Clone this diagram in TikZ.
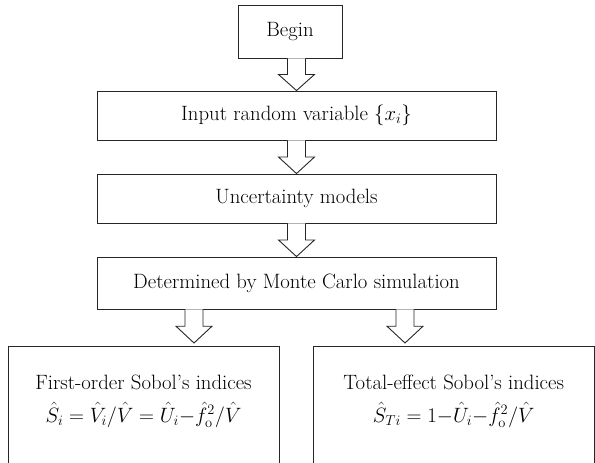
\documentclass[tikz,border=0pt]{standalone}
\usepackage{amsmath}
\usetikzlibrary{calc}

\newcommand{\fatarrow}[2]{%
  \draw[fat arrow] let \p1=(#1), \p2=(#2) in
    (\x1-9pt,\y1) -- (\x1-9pt,{0.5*\y1+0.5*\y2}) -- (\x1-18pt,{0.5*\y1+0.5*\y2})
    -- (\x1,\y2) -- (\x1+18pt,{0.5*\y1+0.5*\y2}) -- (\x1+9pt,{0.5*\y1+0.5*\y2}) -- (\x1+9pt,\y1);}

\begin{document}
\begin{tikzpicture}
    [x=1pt,y=-1pt,
    box/.style={draw=black!85, line width=0.9pt, inner sep=0pt, font=\fontsize{20.74}{25}\selectfont},
    fat arrow/.style={draw=black!85, line width=0.9pt, fill=white, line join=miter},
    label text/.style={align=center, font=\fontsize{20.74}{25}\selectfont},
    ]
    \useasboundingbox (0,0) rectangle (595,463);
    \clip (0,0) rectangle (595,463);

    %flow boxes
    \node[box, minimum width=104pt, minimum height=53pt] (begin) at (290,31.5) {Begin};
    \node[box, minimum width=399pt, minimum height=49pt] (input) at (296.5,115.5) {Input random variable $\{x_i\}$};
    \node[box, minimum width=399pt, minimum height=49pt] (model) at (296.5,198.5) {Uncertainty models};
    \node[box, minimum width=399pt, minimum height=52pt] (mc) at (296.5,283) {Determined by Monte Carlo simulation};

    %index boxes
    \node[box, anchor=north, minimum width=271pt, minimum height=200pt] (first) at (143.5,346) {};
    \node[box, anchor=north, minimum width=281.5pt, minimum height=200pt] (total) at (453.75,346) {};
    \node[label text] (firsttext) at ($(first.north)+(0,55)$)
        {First-order Sobol's indices\\[8pt] $\hat{S}_i = \hat{V}_i/\hat{V} = \hat{U}_i{-}\hat{f}_{\mathrm{o}}^2/\hat{V}$};
    \node[label text] (totaltext) at ($(total.north)+(0,55)$)
        {Total-effect Sobol's indices\\[8pt] $\hat{S}_{Ti} = 1{-}\hat{U}_i{-}\hat{f}_{\mathrm{o}}^2/\hat{V}$};

    %arrows
    \fatarrow{begin.south -| input.north}{input.north}
    \fatarrow{input.south}{model.north}
    \fatarrow{model.south}{mc.north}
    \fatarrow{$(mc.south)+(-102.5,0)$}{$(first.north)+(-50,-3)$}
    \fatarrow{$(mc.south)+(108.5,0)$}{$(total.north)+(0,-3)$}

\end{tikzpicture}
\end{document}
